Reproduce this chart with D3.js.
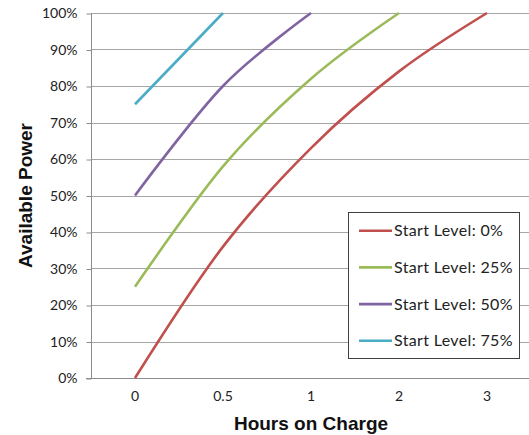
<!DOCTYPE html>
<html><head><meta charset="utf-8">
<script src="https://cdn.jsdelivr.net/npm/d3@7"></script>
<style>body{margin:0;background:#fff}svg{display:block}</style>
</head><body>
<svg id="c" width="529" height="435"></svg>
<script>
const categories = ["0", "0.5", "1", "2", "3"];
const seriesNames = ["Start Level: 0%", "Start Level: 25%", "Start Level: 50%", "Start Level: 75%"];
const start0  = [0, 0.36, 0.63, 0.84, 1.00];
const start25 = [0.25, 0.58, 0.82, 1.00, null];
const start50 = [0.50, 0.80, 1.00, null, null];
const start75 = [0.75, 1.00, null, null, null];
const colors = ["#C0504D", "#9BBB59", "#8064A2", "#4BACC6"];
const yTicks = [0, 0.1, 0.2, 0.3, 0.4, 0.5, 0.6, 0.7, 0.8, 0.9, 1.0];

const series = [start0, start25, start50, start75];
const svg = d3.select("#c");
const L = 91, R = 531, T = 13, B = 378;

const x = d3.scaleBand().domain(categories).range([L, R]).paddingInner(0).paddingOuter(0);
const y = d3.scaleLinear().domain([0, 1]).range([B, T]);
const xc = c => x(c) + x.bandwidth() / 2;

// gridlines
svg.append("g").selectAll("line").data(yTicks.slice(1)).join("line")
  .attr("x1", L).attr("x2", R)
  .attr("y1", d => Math.round(y(d)) + 0.5).attr("y2", d => Math.round(y(d)) + 0.5)
  .attr("stroke", "#a6a6a6").attr("stroke-width", 1);

// y axis
const yAxis = d3.axisLeft(y).tickValues(yTicks).tickFormat(d3.format(".0%")).tickSize(5).tickPadding(9);
const gy = svg.append("g").attr("transform", `translate(${L + 0.5},0.5)`).call(yAxis);
gy.select(".domain").attr("stroke", "#8c8c8c").attr("d", `M-0,${B}V${T}`);
gy.selectAll(".tick line").attr("stroke", "#8c8c8c");
gy.selectAll(".tick text").attr("font-family", "Lato, 'Open Sans', sans-serif").attr("font-size", 14).attr("fill", "#222");

// x axis
const xAxis = d3.axisBottom(x).tickSize(0).tickPadding(13);
const gx = svg.append("g").attr("transform", `translate(0,${B + 0.5})`).call(xAxis);
gx.select(".domain").attr("stroke", "#8c8c8c").attr("d", `M${L - 5},0H${R}`);
gx.selectAll(".tick text").attr("font-family", "Lato, 'Open Sans', sans-serif").attr("font-size", 14).attr("fill", "#222");

// lines
const line = d3.line()
  .defined(d => d.v != null)
  .x(d => xc(d.c)).y(d => y(d.v))
  .curve(d3.curveCatmullRom.alpha(0));
series.forEach((s, i) => {
  const pts = categories.map((c, j) => ({c, v: s[j]}));
  svg.append("path").datum(pts).attr("d", line)
    .attr("fill", "none").attr("stroke", colors[i]).attr("stroke-width", 2.6)
    .attr("stroke-linecap", "butt");
});

// axis titles
svg.append("text").attr("x", 311).attr("y", 430).attr("text-anchor", "middle")
  .attr("font-family", "'Liberation Sans', Arial, sans-serif").attr("font-weight", "bold").attr("font-size", 19)
  .attr("fill", "#111").text("Hours on Charge");
svg.append("text").attr("transform", `translate(32,${(T + B) / 2}) rotate(-90)`).attr("text-anchor", "middle")
  .attr("font-family", "'Liberation Sans', Arial, sans-serif").attr("font-weight", "bold").attr("font-size", 19)
  .attr("fill", "#111").text("Available Power");

// legend
const lg = svg.append("g");
lg.append("rect").attr("x", 348.5).attr("y", 212.5).attr("width", 171).attr("height", 146)
  .attr("fill", "#fff").attr("stroke", "#404040").attr("stroke-width", 1);
seriesNames.forEach((n, i) => {
  const yy = 230.7 + i * 36.7;
  lg.append("line").attr("x1", 359).attr("x2", 392).attr("y1", yy).attr("y2", yy)
    .attr("stroke", colors[i]).attr("stroke-width", 2.6);
  lg.append("text").attr("x", 394).attr("y", yy + 5.5).attr("font-family", "Lato, 'Open Sans', sans-serif")
    .attr("font-size", 16).attr("letter-spacing", 0.35).attr("fill", "#222").text(n);
});
</script>
</body></html>
